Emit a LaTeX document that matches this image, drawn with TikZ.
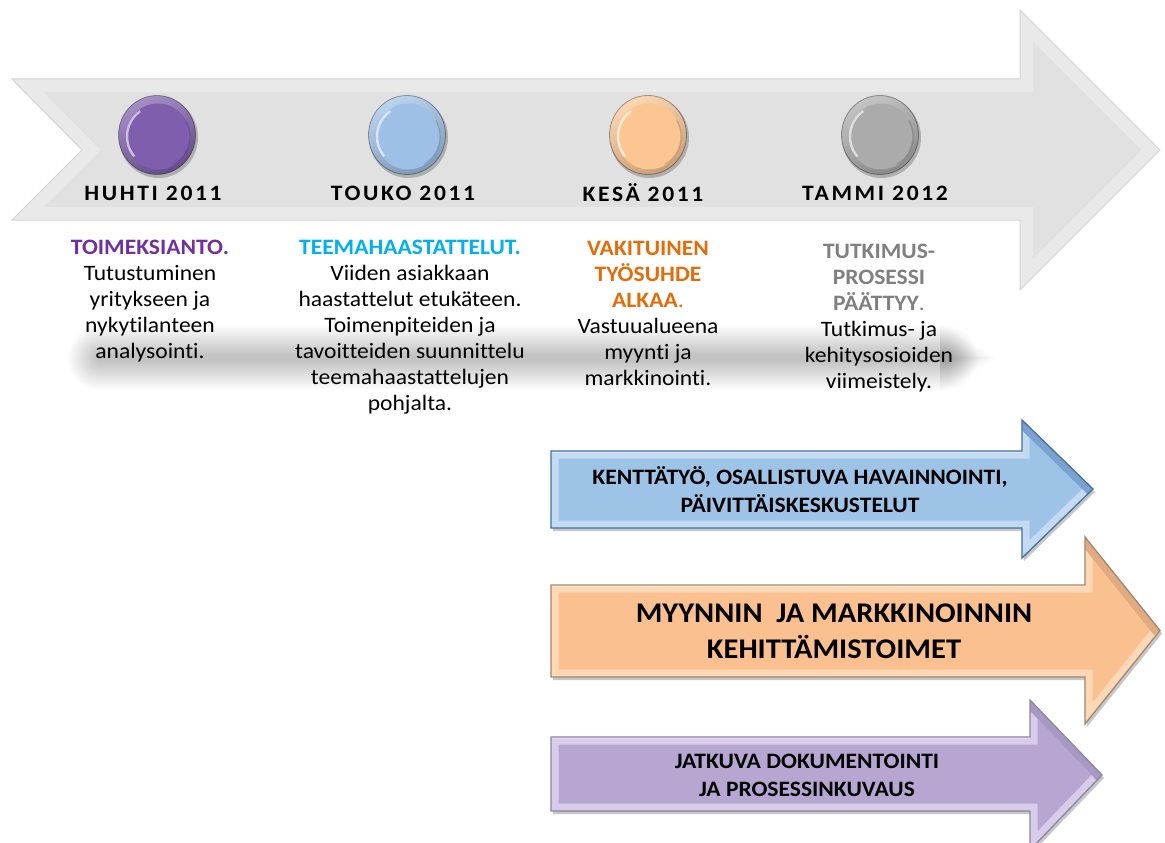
\documentclass[tikz,border=0pt]{standalone}
\usepackage{fontspec}
\setmainfont[FakeStretch=1.07,RawFeature={-liga;-clig;-dlig;-calt}]{Carlito}
\newfontfamily\datefont[LetterSpace=12,FakeStretch=1.07]{Carlito}
\usetikzlibrary{calc}

% palette
\definecolor{grayarrow}{HTML}{E1E1E1}
\definecolor{grayedge}{HTML}{D4D4D4}
\definecolor{hpurple}{HTML}{7030A0}
\definecolor{hcyan}{HTML}{00B0F0}
\definecolor{horange}{HTML}{E46C0A}
\definecolor{hgray}{HTML}{808080}
\definecolor{btnpurple}{HTML}{7E5EAD}
\definecolor{btnblue}{HTML}{9EC0E6}
\definecolor{btnpeach}{HTML}{FBC692}
\definecolor{btngray}{HTML}{ABABAB}
\definecolor{bluefill}{HTML}{9DC3E6}
\definecolor{bluebevel}{HTML}{C4DAF2}
\definecolor{blueline}{HTML}{41719C}
\definecolor{bluedark}{HTML}{5B8BC4}
\definecolor{peachfill}{HTML}{FAC090}
\definecolor{peachbevel}{HTML}{FCD8B6}
\definecolor{peachline}{HTML}{A08870}
\definecolor{peachdark}{HTML}{D8976A}
\definecolor{lilacfill}{HTML}{B7A6D2}
\definecolor{lilacbevel}{HTML}{D8CCEA}
\definecolor{lilacline}{HTML}{8E86A0}
\definecolor{lilacdark}{HTML}{9482B4}

% bevelled block arrow: #1 left x, #2 top y, #3 bottom y, #4 head base x,
% #5 head top y, #6 head bottom y, #7 tip x, #8 colour prefix
\newcommand\bevarrow[8]{%
  \begin{scope}[shift={(2,3)}]
    \fill[black,opacity=.22] (#1,#2) -- (#4,#2) -- (#4,#5) -- (#7,{(#5+#6)/2}) -- (#4,#6) -- (#4,#3) -- (#1,#3) -- cycle;
  \end{scope}
  \fill[#8fill] (#1,#2) -- (#4,#2) -- (#4,#5) -- (#7,{(#5+#6)/2}) -- (#4,#6) -- (#4,#3) -- (#1,#3) -- cycle;
  \begin{scope}
    \clip (#1,#2) -- (#4,#2) -- (#4,#5) -- (#7,{(#5+#6)/2}) -- (#4,#6) -- (#4,#3) -- (#1,#3) -- cycle;
    \draw[#8bevel,line width=15,line join=miter] (#1,#2) -- (#4,#2) -- (#4,#5) -- (#7,{(#5+#6)/2}) -- (#4,#6) -- (#4,#3) -- (#1,#3) -- cycle;
    \draw[#8dark,line width=15,opacity=.7] (#4,#5) -- (#7,{(#5+#6)/2});
    \draw[white,line width=4,opacity=.35] (#1,#2) -- (#4,#2);
  \end{scope}
  \draw[#8line,line width=1.3,line join=miter] (#1,#2) -- (#4,#2) -- (#4,#5) -- (#7,{(#5+#6)/2}) -- (#4,#6) -- (#4,#3) -- (#1,#3) -- cycle;
}

% glossy round marker: #1 x, #2 y, #3 base colour
\newcommand\marker[3]{%
  \fill[black,opacity=.22] (#1+1.5,#2+2.5) ellipse (39.5 and 40.5);
  \shade[top color=#3!70!white, bottom color=#3!80!black, shading angle=25] (#1,#2) ellipse (38.5 and 39.5);
  \fill[#3] (#1+1,#2+1.5) ellipse (32 and 33);
  \draw[white,opacity=.6,line width=2.4] (#1+1,#2+1.5) ++(140:31) arc (140:235:31);
  \draw[black,opacity=.15,line width=1.2] (#1+1,#2+1.5) ++(330:32) arc (330:420:32);
  \draw[black,opacity=.35,line width=.8] (#1,#2) ellipse (38.5 and 39.5);
}

\tikzset{
  datelbl/.style={font=\datefont\bfseries\fontsize{22}{24}\selectfont, inner sep=0pt},
  infoblock/.style={align=center, anchor=north, inner sep=0pt,
    font=\fontsize{22}{26}\selectfont},
  arrowtext/.style={align=center, inner sep=0pt, font=\bfseries\fontsize{22}{28}\selectfont},
}

\begin{document}
\begin{tikzpicture}[x=1pt,y=-1pt]
\useasboundingbox (0,0) rectangle (1165,843);
\fill[white] (0,0) rectangle (1165,843);

% ---- main timeline arrow
\fill[grayarrow] (12,79) -- (1020,79) -- (1020,10) -- (1160,150) -- (1020,290) -- (1020,220) -- (12,220) -- (82,150) -- cycle;
\begin{scope}
  \clip (12,79) -- (1020,79) -- (1020,10) -- (1160,150) -- (1020,290) -- (1020,220) -- (12,220) -- (82,150) -- cycle;
  \draw[white,opacity=.28,line width=26,line join=miter] (12,79) -- (1020,79) -- (1020,10) -- (1160,150) -- (1020,290) -- (1020,220) -- (12,220) -- (82,150) -- cycle;
\end{scope}
\draw[grayedge,line width=1] (12,79) -- (1020,79) -- (1020,10) -- (1160,150) -- (1020,290) -- (1020,220) -- (12,220) -- (82,150) -- cycle;

% ---- soft shadow band below the timeline
\foreach \w in {64,60,...,8} {
  \draw[black,opacity=.0145,line width=\w,line cap=round] (100,358) -- (945,358);
}
\foreach \s in {34,31,...,4} {
  \fill[black,opacity=.013] (940,{358-\s}) -- ({966+\s*0.9},358) -- (940,{358+\s}) -- cycle;
}

% ---- markers
\marker{157}{135}{btnpurple}
\marker{407}{135}{btnblue}
\marker{648}{135}{btnpeach}
\marker{880}{135}{btngray}

% ---- dates
\node[datelbl] (d1) at (153,193) {HUHTI 2011};
\node[datelbl] (d2) at (403,193) {TOUKO 2011};
\node[datelbl] (d3) at (643,193) {KESÄ 2011};
\node[datelbl] (d4) at (875,193) {TAMMI 2012};

% ---- descriptions
\node[infoblock] (t1) at (150,240) {{\color{hpurple}\bfseries TOIMEKSIANTO.}\\Tutustuminen\\yritykseen ja\\nykytilanteen\\analysointi.};
\node[infoblock] (t2) at (410,240) {{\color{hcyan}\bfseries TEEMAHAASTATTELUT.}\\Viiden asiakkaan\\haastattelut etukäteen.\\Toimenpiteiden ja\\tavoitteiden suunnittelu\\teemahaastattelujen\\pohjalta.};
\node[infoblock] (t3) at (648,241) {\color{horange}\bfseries VAKITUINEN\\\color{horange}\bfseries TYÖSUHDE\\{\color{horange}\bfseries ALKAA}{\color{horange}.}\\Vastuualueena\\myynti ja\\markkinointi.};
\node[infoblock] (t4) at (879,244) {\color{hgray}\bfseries TUTKIMUS-\\\color{hgray}\bfseries PROSESSI\\{\color{hgray}\bfseries PÄÄTTYY}{\color{hgray}.}\\Tutkimus- ja\\kehitysosioiden\\viimeistely.};

% ---- parallel work streams
\bevarrow{551}{451}{528}{1022}{420}{558}{1093}{blue}
\node[arrowtext] (a1) at (800,490) {KENTTÄTYÖ, OSALLISTUVA HAVAINNOINTI,\\PÄIVITTÄISKESKUSTELUT};

\bevarrow{551}{585}{677}{1085}{537}{724}{1160}{peach}
\node[arrowtext, font=\bfseries\fontsize{28.5}{36}\selectfont] (a2) at (834,631) {MYYNNIN\ \ JA MARKKINOINNIN\\KEHITTÄMISTOIMET};

\bevarrow{551}{737}{811}{1030}{700}{850}{1102}{lilac}
\node[arrowtext] (a3) at (807,775) {JATKUVA DOKUMENTOINTI\\JA PROSESSINKUVAUS};
\end{tikzpicture}
\end{document}
